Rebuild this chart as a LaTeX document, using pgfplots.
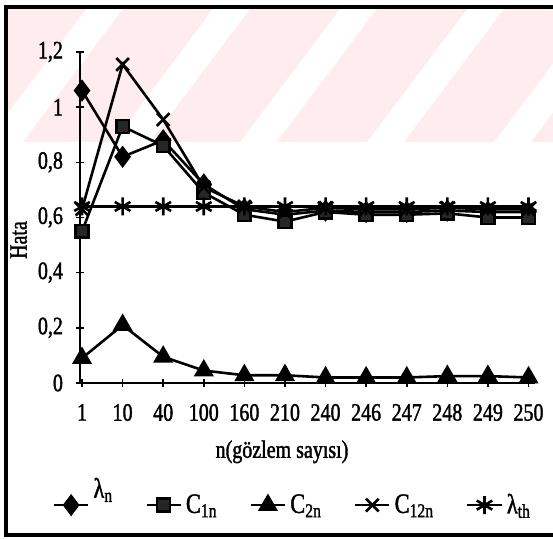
\documentclass[border=0pt]{standalone}
\usepackage{fontspec}
\setmainfont{Liberation Serif}[FakeStretch=0.8, FakeBold=1.5]
\usepackage{pgfplots}
\pgfplotsset{compat=1.18}
\definecolor{wm}{RGB}{254,236,239}
\begin{document}
\begin{tikzpicture}
\useasboundingbox (0pt,0pt) rectangle (276.5pt,269.5pt);
\begin{scope}[x=0.5pt,y=0.5pt]
% faint watermark stripes of the scan
\begin{scope}
\clip (8,397) rectangle (553,534);
\foreach \s in {-104,23,150,277,404,531}{
  \fill[wm] (\s,397) -- (\s+90,397) -- (\s+193,534) -- (\s+103,534) -- cycle;
}
\end{scope}
% frame
\draw[line width=1.6pt] (553,532) -- (6,532) -- (6,4) -- (553,4);
\end{scope}
\begin{axis}[
  at={(40pt,78pt)}, anchor=south west,
  scale only axis, width=227.5pt, height=165.5pt,
  xmin=-0.05, xmax=11.16, ymin=0, ymax=1.2,
  axis lines=left,
  axis line style={line width=1pt,-},
  xtick={0,...,11},
  xticklabels={1,10,40,100,160,210,240,246,247,248,249,250},
  ytick={0,0.2,0.4,0.6,0.8,1,1.2},
  yticklabels={0,{0,2},{0,4},{0,6},{0,8},1,{1,2}},
  tick align=center, major tick length=4pt,
  tick style={black,line width=0.8pt},
  tick label style={font=\fontsize{12.5}{12}\selectfont},
  xticklabel style={yshift=-5pt},
  yticklabel style={xshift=-3pt},
  ylabel={Hata},
  ylabel style={font=\fontsize{12.5}{12}\selectfont, at={(axis description cs:-0.135,0.432)}, anchor=center, rotate=0},
  xlabel={n(gözlem sayısı)},
  xlabel style={font=\fontsize{12.5}{12}\selectfont, at={(axis description cs:0.444,-0.208)}, anchor=center},
  legend columns=5,
  legend cell align=left,
  legend style={at={(axis description cs:0.47,-0.369)}, anchor=center, draw=none, fill=none,
    font=\fontsize{14}{14}\selectfont,
    /tikz/every even column/.append style={column sep=14pt}},
  every axis plot/.append style={line width=1.3pt, black},
  clip=false,
]
\addplot[mark=diamond*, mark size=4.5pt] coordinates {
(0,1.06) (1,0.82) (2,0.88) (3,0.72) (4,0.63) (5,0.61) (6,0.625) (7,0.62) (8,0.62) (9,0.625) (10,0.62) (11,0.62)};
\addlegendentry{\raisebox{3pt}[0pt][0pt]{λ\textsubscript{n}}}
\addplot[mark=square*, mark size=3.2pt, mark options={fill=black!85}] coordinates {
(0,0.55) (1,0.93) (2,0.86) (3,0.69) (4,0.61) (5,0.585) (6,0.62) (7,0.61) (8,0.61) (9,0.615) (10,0.60) (11,0.60)};
\addlegendentry{C\textsubscript{1n}}
\addplot[mark=triangle*, mark size=4.5pt] coordinates {
(0,0.09) (1,0.21) (2,0.095) (3,0.045) (4,0.028) (5,0.028) (6,0.02) (7,0.02) (8,0.02) (9,0.025) (10,0.025) (11,0.02)};
\addlegendentry{C\textsubscript{2n}}
\addplot[mark=x, mark size=4.5pt] coordinates {
(0,0.63) (1,1.155) (2,0.955) (3,0.71) (4,0.64) (5,0.62) (6,0.635) (7,0.63) (8,0.63) (9,0.635) (10,0.63) (11,0.63)};
\addlegendentry{C\textsubscript{12n}}
\addplot[mark=asterisk, mark size=4.5pt] coordinates {
(0,0.64) (1,0.64) (2,0.64) (3,0.64) (4,0.64) (5,0.64) (6,0.64) (7,0.64) (8,0.64) (9,0.64) (10,0.64) (11,0.64)};
\addlegendentry{λ\textsubscript{th}}
\end{axis}
\end{tikzpicture}
\end{document}
